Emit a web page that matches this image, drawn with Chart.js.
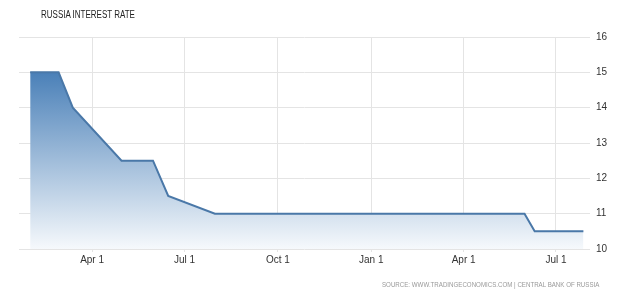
<!DOCTYPE html>
<html>
<head>
<meta charset="utf-8">
<script src="https://cdn.jsdelivr.net/npm/chart.js@4.4.0/dist/chart.umd.min.js"></script>
<style>
  html, body { margin: 0; padding: 0; background: #fff; }
  #wrap { position: relative; width: 640px; height: 298px; }
  #title { position: absolute; left: 41px; top: 9px; font: 10px "Liberation Sans", Arial, sans-serif; color: #222; white-space: nowrap; transform: scaleX(0.8); transform-origin: left top; }
  #source { position: absolute; left: 382px; top: 281px; font: 7px "Liberation Sans", Arial, sans-serif; color: #999; white-space: nowrap; transform: scaleX(0.88); transform-origin: left top; }
</style>
</head>
<body>
<div id="wrap">
  <canvas id="rateChart" width="640" height="298"></canvas>
  <div id="title">RUSSIA INTEREST RATE</div>
  <div id="source">SOURCE: WWW.TRADINGECONOMICS.COM | CENTRAL BANK OF RUSSIA</div>
</div>
<script>
// data
const dates = ['2015-01-30', '2015-02-27', '2015-03-13', '2015-04-30', '2015-05-31', '2015-06-15',
               '2015-07-31', '2016-05-31', '2016-06-10', '2016-07-28'];
const rates = [15, 15, 14, 12.5, 12.5, 11.5, 11, 11, 10.5, 10.5];

const tickDates = ['2015-04-01', '2015-07-01', '2015-10-01', '2016-01-01', '2016-04-01', '2016-07-01'];
const tickLabels = ['Apr 1', 'Jul 1', 'Oct 1', 'Jan 1', 'Apr 1', 'Jul 1'];
const yTicks = [10, 11, 12, 13, 14, 15, 16];

const rangeStart = '2015-01-19';
const rangeEnd = '2016-08-03';

// days since 2015-01-01
function dayNum(s) {
  const p = s.split('-').map(Number);
  return (Date.UTC(p[0], p[1] - 1, p[2]) - Date.UTC(2015, 0, 1)) / 86400000;
}

const points = dates.map((d, i) => ({ x: dayNum(d), y: rates[i] }));
const tickDays = tickDates.map(dayNum);

const ctx = document.getElementById('rateChart');

new Chart(ctx, {
  type: 'line',
  data: {
    datasets: [{
      data: points,
      borderColor: '#4a78a8',
      borderWidth: 2,
      pointRadius: 0,
      tension: 0,
      fill: 'start',
      backgroundColor: function(c) {
        const area = c.chart.chartArea;
        if (!area) return 'rgba(74,128,184,0.6)';
        const g = c.chart.ctx.createLinearGradient(0, area.top + 35, 0, area.bottom);
        g.addColorStop(0, '#4a80b8');
        g.addColorStop(1, '#f6f9fc');
        return g;
      }
    }]
  },
  options: {
    responsive: false,
    animation: false,
    layout: { padding: { left: 19, top: 37, right: 0, bottom: 0 } },
    plugins: { legend: { display: false }, tooltip: { enabled: false } },
    scales: {
      x: {
        type: 'linear',
        min: dayNum(rangeStart),
        max: dayNum(rangeEnd) + 0.5,
        afterBuildTicks: function(axis) {
          axis.ticks = tickDays.map(v => ({ value: v }));
        },
        afterFit: function(axis) { axis.height = 49; },
        grid: { color: '#e4e4e4', lineWidth: 1, tickLength: 3, drawOnChartArea: true },
        border: { display: false },
        ticks: {
          padding: 2,
          color: '#333',
          font: { family: '"Liberation Sans", Arial, sans-serif', size: 10 },
          maxRotation: 0,
          callback: function(value) {
            const i = tickDays.indexOf(value);
            return i >= 0 ? tickLabels[i] : '';
          }
        }
      },
      y: {
        position: 'right',
        min: 10,
        max: 16,
        afterBuildTicks: function(axis) {
          axis.ticks = yTicks.map(v => ({ value: v }));
        },
        afterFit: function(axis) { axis.width = 50; },
        grid: { color: '#e4e4e4', lineWidth: 1, drawTicks: false },
        border: { display: false },
        ticks: {
          padding: 6,
          color: '#333',
          font: { family: '"Liberation Sans", Arial, sans-serif', size: 10 }
        }
      }
    }
  }
});
</script>
</body>
</html>
